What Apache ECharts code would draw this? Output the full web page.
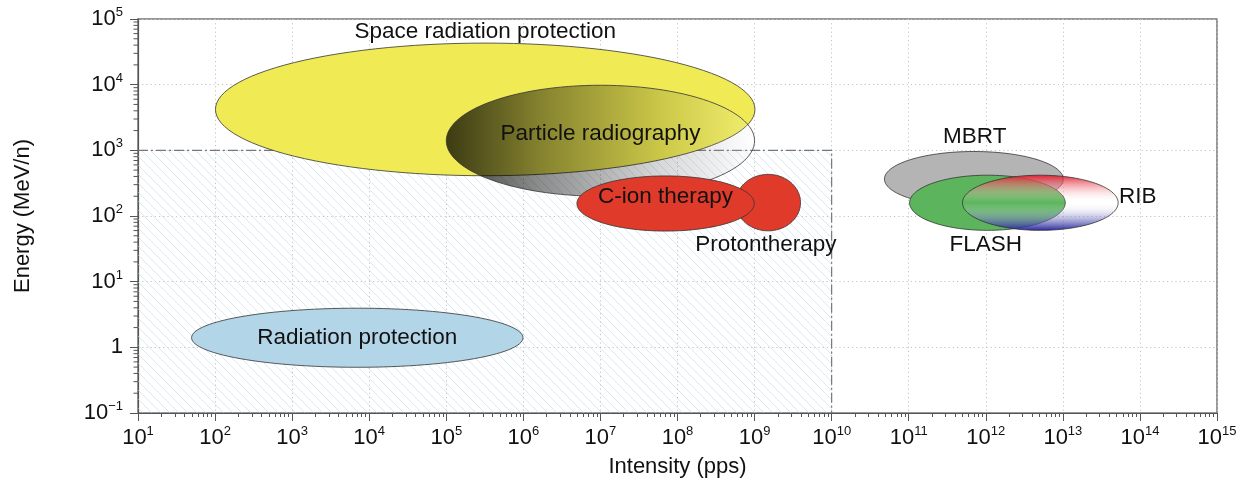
<!DOCTYPE html>
<html>
<head>
<meta charset="utf-8">
<title>Energy vs intensity of beam applications</title>
<script src="https://cdn.jsdelivr.net/npm/echarts@6/dist/echarts.min.js"></script>
<style>
  html, body { margin: 0; padding: 0; background: #fff; }
  #main { width: 1246px; height: 486px; }
</style>
</head>
<body>
<div id="main"></div>
<script>
// axis decades
const xMajor = [1e1, 1e2, 1e3, 1e4, 1e5, 1e6, 1e7, 1e8, 1e9, 1e10, 1e11, 1e12, 1e13, 1e14, 1e15]
const yMajor = [1e-1, 1, 1e1, 1e2, 1e3, 1e4, 1e5]

// application regions (ellipses in log-log space)
const regionNames = ['Space radiation protection', 'Particle radiography', 'Protontherapy', 'C-ion therapy',
  'Radiation protection', 'MBRT', 'FLASH', 'RIB']
const centerIntensity = [3.2e5, 1.0e7, 1.5e9, 7.0e7, 7.0e3, 7.0e11, 1.05e12, 5.1e12]
const centerEnergy = [4.2e3, 1.4e3, 160, 155, 1.4, 365, 159, 159]
const halfDecadesX = [3.5, 2.0, 0.42, 1.15, 2.15, 1.16, 1.01, 1.01]
const halfDecadesY = [1.01, 0.845, 0.43, 0.42, 0.45, 0.42, 0.42, 0.42]

// text labels
const labelText = ['Space radiation protection', 'Particle radiography', 'C-ion therapy', 'Protontherapy',
  'Radiation protection', 'MBRT', 'FLASH', 'RIB']
const labelIntensity = [3.2e5, 1.0e7, 7.0e7, 1.4e9, 7.0e3, 7.2e11, 1.0e12, 9.4e13]
const labelEnergy = [6.3e4, 1.77e3, 197, 36.8, 1.39, 1.61e3, 36.2, 197]

// hatched zone
const hatchIntensity = [1e1, 1e10]
const hatchEnergy = [1e-1, 1e3]

const font = "'Liberation Sans', Arial, Helvetica, sans-serif"
// log10(1e15) comes out a hair under 15, so pad the end a little
const xMax = 1.000001e15

function minorOf (majors) {
  let out = []
  for (let i = 0; i < majors.length - 1; i++) {
    for (let k = 2; k <= 9; k++) out.push(k * majors[i])
  }
  return out
}

function powerLabel (value) {
  let e = Math.round(Math.log10(value))
  if (e === 0) return '{b|1}'
  return '{b|10}{s|' + String(e).replace('-', '\u2212') + '}'
}

const tickRich = {
  b: { fontSize: 22, lineHeight: 26, color: '#111', fontFamily: font },
  s: { fontSize: 13, lineHeight: 14, verticalAlign: 'top', color: '#111', fontFamily: font }
}

// hatch pattern
const hatch = document.createElement('canvas')
hatch.width = 9
hatch.height = 9
const hc = hatch.getContext('2d')
hc.strokeStyle = 'rgba(185,214,230,0.75)'
hc.lineWidth = 0.7
hc.beginPath()
hc.moveTo(-1, -1); hc.lineTo(10, 10)
hc.moveTo(-1, 8); hc.lineTo(1, 10)
hc.moveTo(8, -1); hc.lineTo(10, 1)
hc.stroke()

const fills = [
  '#f0eb55',
  { type: 'linear', x: 0, y: 0, x2: 1, y2: 0, colorStops: [
    { offset: 0, color: 'rgba(10,10,0,0.78)' },
    { offset: 0.3, color: 'rgba(0,0,0,0.45)' },
    { offset: 0.7, color: 'rgba(0,0,0,0.15)' },
    { offset: 1, color: 'rgba(255,255,255,0.15)' }] },
  '#e03a2b',
  '#e03a2b',
  '#b2d5e8',
  '#b4b4b4',
  '#5cb55c',
  { type: 'linear', x: 0, y: 0, x2: 0, y2: 1, colorStops: [
    { offset: 0, color: 'rgba(225,25,40,0.95)' },
    { offset: 0.5, color: 'rgba(255,255,255,0)' },
    { offset: 1, color: 'rgba(25,25,150,0.95)' }] }
]

function renderEllipse (params, api) {
  let i = params.dataIndex
  let lx = Math.log10(api.value(0))
  let ly = Math.log10(api.value(1))
  let pts = []
  for (let k = 0; k < 120; k++) {
    let t = k / 120 * 2 * Math.PI
    pts.push(api.coord([Math.pow(10, lx + api.value(2) * Math.cos(t)), Math.pow(10, ly + api.value(3) * Math.sin(t))]))
  }
  return {
    type: 'polygon',
    shape: { points: pts },
    style: { fill: fills[i], stroke: '#333', lineWidth: 0.8 }
  }
}

function renderHatch (params, api) {
  let tl = api.coord([api.value(0), api.value(3)])
  let br = api.coord([api.value(2), api.value(1)])
  return {
    type: 'group',
    children: [{
      type: 'rect',
      shape: { x: tl[0], y: tl[1], width: br[0] - tl[0], height: br[1] - tl[1] },
      style: { fill: { image: hatch, repeat: 'repeat' } }
    }, {
      type: 'polyline',
      shape: { points: [[tl[0], tl[1]], [br[0], tl[1]], [br[0], br[1]]] },
      style: { fill: null, stroke: '#777', lineWidth: 1.2, lineDash: [10, 3, 2, 3] }
    }]
  }
}

// short outward ticks on the energy axis for 2..9 x 10^n
function renderMinorY (params, api) {
  let p = api.coord([api.value(0), api.value(1)])
  return {
    type: 'line',
    shape: { x1: p[0] - 4.5, y1: p[1], x2: p[0], y2: p[1] },
    style: { stroke: '#555', lineWidth: 1 }
  }
}

function renderLabel (params, api) {
  let p = api.coord([api.value(0), api.value(1)])
  return {
    type: 'text',
    x: p[0],
    y: p[1],
    style: {
      text: labelText[params.dataIndex],
      fontSize: 22.5,
      fontFamily: font,
      fill: '#111',
      align: 'center',
      verticalAlign: 'middle'
    }
  }
}

const chart = echarts.init(document.getElementById('main'))

const mainAxis = {
  type: 'log',
  logBase: 10,
  axisLine: { lineStyle: { color: '#555', width: 1.2 } },
  axisTick: { length: 8, lineStyle: { color: '#555' } },
  splitLine: { show: true, lineStyle: { color: '#c4c4c4', width: 1, type: [1.2, 3] } },
  nameTextStyle: { fontSize: 22, color: '#111', fontFamily: font }
}

const option = {
  animation: false,
  grid: {
    left: 138, right: 29, top: 19, bottom: 73,
    containLabel: false,
    outerBoundsMode: 'none',
    show: true,
    borderColor: '#777',
    borderWidth: 1.5
  },
  xAxis: [
    Object.assign({}, mainAxis, {
      min: 1e1, max: xMax, position: 'bottom',
      name: 'Intensity (pps)', nameLocation: 'middle', nameGap: 43,
      axisTick: Object.assign({}, mainAxis.axisTick, { customValues: xMajor }),
      axisLabel: { customValues: xMajor, margin: 12, showMaxLabel: true, showMinLabel: true, formatter: powerLabel, rich: tickRich }
    }),
    {
      type: 'log',
      logBase: 10,
      min: 1e1, max: xMax, position: 'bottom',
      axisLine: { show: false },
      axisLabel: { show: false },
      splitLine: { show: false },
      axisTick: { length: 4, customValues: minorOf(xMajor), lineStyle: { color: '#555' } }
    }
  ],
  yAxis: Object.assign({}, mainAxis, {
    min: 1e-1, max: 1e5, position: 'left',
    name: 'Energy (MeV/n)', nameLocation: 'middle', nameGap: 104,
    axisTick: Object.assign({}, mainAxis.axisTick, { customValues: yMajor }),
    axisLabel: { customValues: yMajor, margin: 15, showMaxLabel: true, showMinLabel: true, formatter: powerLabel, rich: tickRich }
  }),
  series: [
    {
      type: 'custom',
      silent: true,
      clip: false,
      renderItem: renderHatch,
      data: [[hatchIntensity[0], hatchEnergy[0], hatchIntensity[1], hatchEnergy[1]]]
    },
    {
      type: 'custom',
      silent: true,
      clip: false,
      z: 10,
      renderItem: renderMinorY,
      data: minorOf(yMajor).map(v => [xMajor[0], v])
    },
    {
      type: 'custom',
      silent: true,
      clip: false,
      renderItem: renderEllipse,
      data: regionNames.map((n, i) => ({
        name: n,
        value: [centerIntensity[i], centerEnergy[i], halfDecadesX[i], halfDecadesY[i]]
      }))
    },
    {
      type: 'custom',
      silent: true,
      clip: false,
      renderItem: renderLabel,
      data: labelText.map((t, i) => [labelIntensity[i], labelEnergy[i]])
    }
  ]
}

chart.setOption(option)
</script>
</body>
</html>
